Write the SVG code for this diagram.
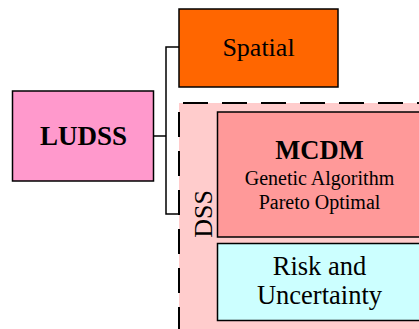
<svg xmlns="http://www.w3.org/2000/svg" width="419" height="329" viewBox="0 0 419 329">
<style>
.box{stroke:#000;stroke-width:1.5}
.t{font-family:"Liberation Serif","Times New Roman",serif;fill:#000;text-anchor:middle}
.b{font-weight:bold}
.conn{fill:none;stroke:#000;stroke-width:1.5}
.dash{stroke:#000;stroke-width:2;stroke-dasharray:25 14}
</style>
<rect width="419" height="329" fill="#fff"/>
<g id="dss">
<rect x="179" y="103" width="245" height="232" fill="#FFCCCC"/>
<line class="dash" x1="179" y1="103" x2="424" y2="103" stroke-dashoffset="35"/>
<line class="dash" x1="179" y1="103" x2="179" y2="335" stroke-dashoffset="30"/>
<text class="t" font-size="26" transform="translate(211.5,214) rotate(-90)">DSS</text>
</g>
<g id="connectors">
<polyline class="conn" points="179,47 166,47 166,214 179,214"/>
<line class="conn" x1="154" y1="136" x2="166" y2="136"/>
</g>
<g id="ludss">
<rect class="box" x="12.5" y="91" width="141" height="90" fill="#FF99CC"/>
<text class="t b" x="83.5" y="145" font-size="27">LUDSS</text>
</g>
<g id="spatial">
<rect class="box" x="179" y="9" width="159" height="78" fill="#FF6600"/>
<text class="t" x="258.5" y="56" font-size="26">Spatial</text>
</g>
<g id="mcdm">
<rect class="box" x="217.5" y="112" width="210" height="125" fill="#FF9999"/>
<text class="t b" x="319.5" y="158.5" font-size="26.5">MCDM</text>
<text class="t" x="319.5" y="185" font-size="20">Genetic Algorithm</text>
<text class="t" x="319.5" y="209" font-size="20">Pareto Optimal</text>
</g>
<g id="risk">
<rect class="box" x="217.5" y="243.5" width="210" height="77" fill="#CCFFFF"/>
<text class="t" x="319.5" y="274.5" font-size="26.5">Risk and</text>
<text class="t" x="319.5" y="304" font-size="26.5">Uncertainty</text>
</g>
</svg>
